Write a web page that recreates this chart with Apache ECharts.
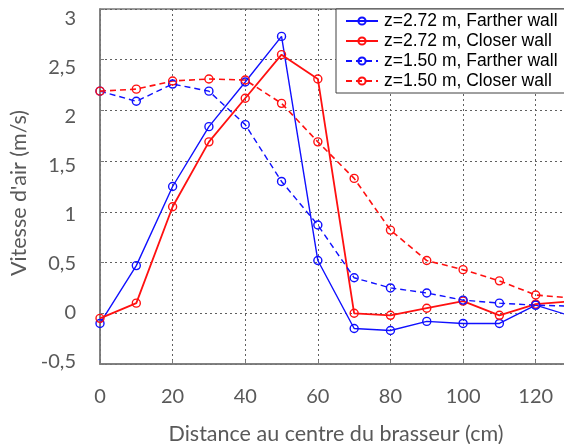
<!DOCTYPE html>
<html>
<head>
<meta charset="utf-8">
<script src="https://cdn.jsdelivr.net/npm/echarts@6/dist/echarts.min.js"></script>
<style>
  html, body { margin: 0; padding: 0; background: #fff; }
  #chart { width: 564px; height: 444px; }
</style>
</head>
<body>
<div id="chart"></div>
<script>
// Distances from the fan centre (cm)
const distances = [0, 10, 20, 30, 40, 50, 60, 70, 80, 90, 100, 110, 120, 130];

// Air speed (m/s) at each distance
const farHigh  = [-0.10, 0.47, 1.25, 1.84, 2.28, 2.73, 0.52, -0.15, -0.17, -0.08, -0.10, -0.10, 0.08, -0.03];
const closeHigh = [-0.05, 0.10, 1.05, 1.69, 2.12, 2.55, 2.31, 0.00, -0.02, 0.05, 0.12, -0.02, 0.09, 0.12];
const farLow   = [2.19, 2.09, 2.26, 2.19, 1.86, 1.30, 0.87, 0.35, 0.25, 0.20, 0.13, 0.10, 0.08, 0.07];
const closeLow = [2.19, 2.21, 2.29, 2.31, 2.30, 2.07, 1.69, 1.33, 0.82, 0.52, 0.43, 0.32, 0.18, 0.15];

const seriesNames = [
  'z=2.72 m, Farther wall',
  'z=2.72 m, Closer wall',
  'z=1.50 m, Farther wall',
  'z=1.50 m, Closer wall'
];

// y tick values (labels use a decimal comma)
const yTicks = [-0.5, 0, 0.5, 1, 1.5, 2, 2.5, 3];

const BLUE = '#1010ff';
const RED = '#ff1010';

function pairs(values) {
  return distances.map((d, i) => [d, values[i]]);
}

function makeSeries(name, values, color, dashed, width) {
  return {
    name: name,
    type: 'line',
    data: pairs(values),
    symbol: 'circle',
    symbolSize: 8,
    showAllSymbol: true,
    color: color,
    lineStyle: { color: color, width: width, type: dashed ? [6, 4] : 'solid' },
    itemStyle: { color: 'rgba(255,255,255,0)', borderColor: color, borderWidth: 1.4 },
    emphasis: { disabled: true },
    animation: false
  };
}

// Tick labels sit slightly below their grid lines, more so toward the top
const labelFont = 'Lato, "Open Sans", sans-serif';
const rich = {};
yTicks.forEach((v, i) => {
  const shift = 9.5 - 3.29 * (3 - v);
  rich['t' + i] = {
    fontFamily: labelFont, fontSize: 20, color: '#595959',
    padding: shift >= 0 ? [2 * shift, 0, 0, 0] : [0, 0, -2 * shift, 0]
  };
});

const chart = echarts.init(document.getElementById('chart'), null, { renderer: 'canvas' });

chart.setOption({
  backgroundColor: '#ffffff',
  animation: false,
  grid: {
    left: 100, top: 9, width: 472, height: 355,
    outerBoundsMode: 'none',
    show: true, borderColor: '#7a7a7a', borderWidth: 1.5,
    containLabel: false
  },
  legend: {
    orient: 'vertical',
    left: 336, top: 9,
    padding: [3, 10, 3, 9],
    itemWidth: 32, itemHeight: 9, itemGap: 2,
    backgroundColor: '#ffffff',
    borderColor: '#404040', borderWidth: 1,
    borderRadius: 0,
    data: seriesNames,
    textStyle: { fontFamily: 'Liberation Sans, Arial, sans-serif', fontSize: 17.5, lineHeight: 17, color: '#000', padding: [0, 0, 0, 1] }
  },
  xAxis: {
    type: 'value',
    min: 0, max: 130, interval: 20,
    name: 'Distance au centre du brasseur (cm)',
    nameLocation: 'middle',
    nameGap: 59,
    nameTextStyle: { fontFamily: labelFont, fontSize: 21.5, color: '#595959' },
    axisLine: { show: true, onZero: false, lineStyle: { color: '#7a7a7a', width: 1.5 } },
    axisTick: { show: true, inside: true, length: 4, lineStyle: { color: '#7a7a7a' } },
    axisLabel: { fontFamily: labelFont, fontSize: 20, color: '#595959', margin: 23, showMaxLabel: false },
    splitLine: { show: true, lineStyle: { color: '#606060', type: [2, 3], width: 1 } }
  },
  yAxis: {
    type: 'value',
    min: -0.5, max: 3, interval: 0.5,
    name: "Vitesse d'air (m/s)",
    nameLocation: 'middle',
    nameGap: 69,
    nameTextStyle: { fontFamily: labelFont, fontSize: 21.5, color: '#595959', padding: [0, 13, 0, 0] },
    axisLine: { show: true, onZero: false, lineStyle: { color: '#7a7a7a', width: 1.5 } },
    axisTick: { show: true, inside: true, length: 4, lineStyle: { color: '#7a7a7a' } },
    axisLabel: {
      margin: 24,
      rich: rich,
      formatter: v => {
        const i = yTicks.findIndex(t => Math.abs(t - v) < 1e-6);
        const text = String(v).replace('.', ',');
        return i >= 0 ? '{t' + i + '|' + text + '}' : text;
      }
    },
    splitLine: { show: true, lineStyle: { color: '#606060', type: [2, 3], width: 1 } }
  },
  series: [
    makeSeries(seriesNames[0], farHigh, BLUE, false, 1.4),
    makeSeries(seriesNames[1], closeHigh, RED, false, 1.8),
    makeSeries(seriesNames[2], farLow, BLUE, true, 1.4),
    makeSeries(seriesNames[3], closeLow, RED, true, 1.6)
  ]
});
</script>
</body>
</html>
